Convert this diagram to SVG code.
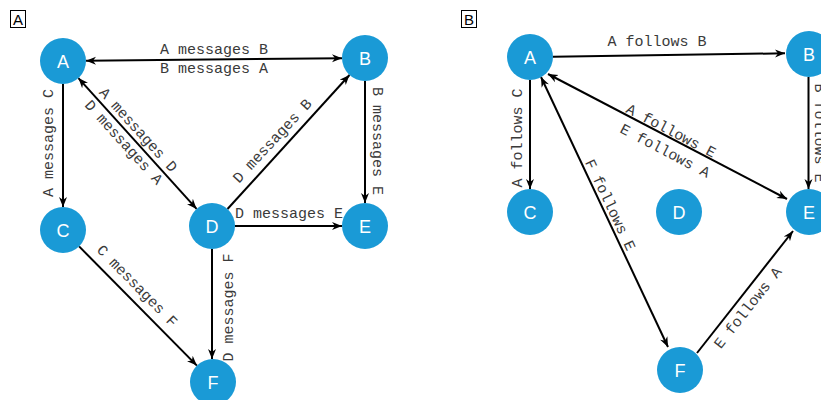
<svg xmlns="http://www.w3.org/2000/svg" width="821" height="400" viewBox="0 0 821 400">
<style>
.node circle{fill:#1a9ad6;}
.node text{font-family:"Liberation Sans",Arial,sans-serif;font-size:18px;fill:#fff;text-anchor:middle;}
.edge{stroke:#000;stroke-width:2;fill:none;}
.lbl{font-family:"Liberation Mono","Courier New",monospace;font-size:15px;fill:#3a3a3a;text-anchor:middle;}
.panel rect{fill:#fff;stroke:#000;stroke-width:1;}
.panel text{font-family:"Liberation Sans",Arial,sans-serif;font-size:15px;fill:#000;text-anchor:middle;}
</style>
<defs>
<marker id="arr" viewBox="0 0 10 10" refX="10" refY="5" markerWidth="10" markerHeight="10" markerUnits="userSpaceOnUse" orient="auto-start-reverse">
<path d="M0,1 L10,5 L0,9 L3,5 z" fill="#000"/>
</marker>
</defs>
<rect width="821" height="400" fill="#fff"/>
<g id="panel-A" class="panel"><rect x="10.5" y="10.5" width="15" height="17"/><text x="18" y="24.5">A</text></g>
<g id="panel-B" class="panel"><rect x="461.5" y="10.5" width="15" height="17"/><text x="469" y="24.5">B</text></g>

<g id="connectors">
<line class="edge" x1="86" y1="60.8" x2="342" y2="58.2" marker-start="url(#arr)" marker-end="url(#arr)"/>
<line class="edge" x1="63" y1="84" x2="63" y2="207" marker-end="url(#arr)"/>
<line class="edge" x1="78.4" y1="78.1" x2="196.6" y2="208.9" marker-start="url(#arr)" marker-end="url(#arr)"/>
<line class="edge" x1="227.5" y1="209" x2="349.5" y2="75" marker-end="url(#arr)"/>
<line class="edge" x1="365" y1="81" x2="365" y2="203" marker-end="url(#arr)"/>
<line class="edge" x1="235" y1="226" x2="342" y2="226" marker-end="url(#arr)"/>
<line class="edge" x1="79.1" y1="246.4" x2="196.9" y2="365.6" marker-end="url(#arr)"/>
<line class="edge" x1="212" y1="249" x2="212" y2="359" marker-end="url(#arr)"/>

<line class="edge" x1="553" y1="56.7" x2="785" y2="53.3" marker-end="url(#arr)"/>
<line class="edge" x1="530" y1="80" x2="530" y2="189" marker-end="url(#arr)"/>
<line class="edge" x1="548" y1="74" x2="787" y2="199" marker-start="url(#arr)" marker-end="url(#arr)"/>
<line class="edge" x1="541" y1="77" x2="668" y2="347" marker-start="url(#arr)" marker-end="url(#arr)"/>
<line class="edge" x1="808.5" y1="77" x2="808.5" y2="189" marker-end="url(#arr)"/>
<line class="edge" x1="697" y1="353" x2="793" y2="231" marker-end="url(#arr)"/>

<text class="lbl" x="214" y="53.5">A messages B</text>
<text class="lbl" x="214" y="72.5">B messages A</text>
<text class="lbl" x="289" y="218">D messages E</text>
<text class="lbl" transform="translate(53,143) rotate(-90)">A messages C</text>
<text class="lbl" transform="translate(372.5,141) rotate(90)">B messages E</text>
<text class="lbl" transform="translate(233,307.5) rotate(-90)">D messages F</text>
<text class="lbl" transform="translate(138,130) rotate(47.8)" y="4.5">A messages D</text>
<text class="lbl" transform="translate(123.5,142.5) rotate(47.8)" y="4.5">D messages A</text>
<text class="lbl" transform="translate(272.5,141) rotate(-47.1)" y="4.5">D messages B</text>
<text class="lbl" transform="translate(137,286) rotate(45.5)" y="4.5">C messages F</text>

<text class="lbl" x="657" y="46">A follows B</text>
<text class="lbl" transform="translate(521.7,138) rotate(-90)">A follows C</text>
<text class="lbl" transform="translate(815,133) rotate(90)">B follows E</text>
<text class="lbl" transform="translate(671,131) rotate(27.6)" y="4.5">A follows E</text>
<text class="lbl" transform="translate(665,151) rotate(27.6)" y="4.5">E follows A</text>
<text class="lbl" transform="translate(610,205) rotate(64.7)" y="4.5">F follows E</text>
<text class="lbl" transform="translate(748,308) rotate(-51.6)" y="4.5">E follows A</text>
</g>

<g id="a-A" class="node"><circle cx="63" cy="61" r="23"/><text x="63" y="67.5">A</text></g>
<g id="a-B" class="node"><circle cx="365" cy="58" r="23"/><text x="365" y="64.5">B</text></g>
<g id="a-C" class="node"><circle cx="63" cy="230" r="23"/><text x="63" y="236.5">C</text></g>
<g id="a-D" class="node"><circle cx="212" cy="226" r="23"/><text x="212" y="232.5">D</text></g>
<g id="a-E" class="node"><circle cx="365" cy="226" r="23"/><text x="365" y="232.5">E</text></g>
<g id="a-F" class="node"><circle cx="213" cy="382" r="23"/><text x="213" y="388.5">F</text></g>

<g id="b-A" class="node"><circle cx="530" cy="57" r="23"/><text x="530" y="63.5">A</text></g>
<g id="b-B" class="node"><circle cx="809" cy="54" r="23"/><text x="809" y="60.5">B</text></g>
<g id="b-C" class="node"><circle cx="530" cy="212" r="23"/><text x="530" y="218.5">C</text></g>
<g id="b-D" class="node"><circle cx="679" cy="212" r="23"/><text x="679" y="218.5">D</text></g>
<g id="b-E" class="node"><circle cx="809" cy="212" r="23"/><text x="809" y="218.5">E</text></g>
<g id="b-F" class="node"><circle cx="680" cy="370" r="23"/><text x="680" y="376.5">F</text></g>
</svg>
